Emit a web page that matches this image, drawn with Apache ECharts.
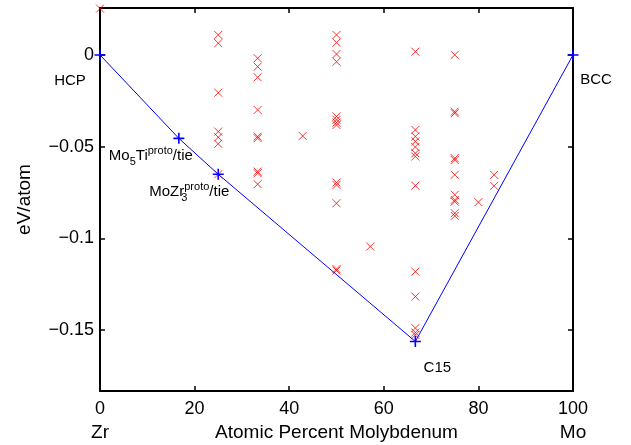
<!DOCTYPE html>
<html><head><meta charset="utf-8">
<script src="https://cdn.jsdelivr.net/npm/echarts@6/dist/echarts.min.js"></script>
<style>html,body{margin:0;padding:0;background:#fff}#c{width:631px;height:445px}</style>
</head><body><div id="c"></div>
<script>
// ---- data ----
const xTicks = [0, 20, 40, 60, 80, 100];
const xEndNames = ['Zr', 'Mo'];
const yTickValues = [-0.15, -0.1, -0.05, 0];
const yTickLabels = ['\u22120.15', '\u22120.1', '\u22120.05', '0'];
const xAxisName = 'Atomic Percent Molybdenum';
const yAxisName = 'eV/atom';

// convex hull (tie line) points
const hullX = [0, 16.67, 25, 66.67, 100];
const hullY = [0, -0.0455, -0.0651, -0.1563, 0];
const hullNames = ['HCP', 'Mo5Ti', 'MoZr3', 'C15', 'BCC'];

// computed structures: composition (at.% Mo) and formation energies
const structX = [0, 25, 33.33, 42.86, 50, 57.14, 66.67, 75, 80, 83.33];
const e0 = [0.0253];
const e25 = [0.0109, 0.0064, -0.0206, -0.0418, -0.0449, -0.0485, -0.0651];
const e33 = [-0.0018, -0.0064, -0.0122, -0.0300, -0.0445, -0.0454, -0.0636, -0.0645, -0.0705];
const e43 = [-0.0442];
const e50 = [0.0109, 0.0067, 0.0005, -0.0037, -0.0336, -0.0354, -0.0369, -0.0382, -0.0696, -0.0709, -0.0809, -0.1168, -0.1176];
const e57 = [-0.1045];
const e67 = [0.0018, -0.0409, -0.0445, -0.0472, -0.0502, -0.0536, -0.0554, -0.0713, -0.1182, -0.1318, -0.1490, -0.1514, -0.1527];
const e75 = [0.0, -0.0309, -0.0318, -0.0563, -0.0573, -0.0654, -0.0763, -0.0791, -0.0800, -0.0863, -0.0878];
const e80 = [-0.0803];
const e83 = [-0.0654, -0.0714];
const structY = [e0, e25, e33, e43, e50, e57, e67, e75, e80, e83];

// ---- presentation ----
const FONT = 'Liberation Sans, Arial, Helvetica, sans-serif';
const labelText = {
  HCP: '{b|HCP}',
  Mo5Ti: '{b|Mo}{sub|5}{b|Ti}{sup|proto}{b|/tie}',
  MoZr3: '{b|MoZr}{subz|3}{sup|proto}{b|/tie}',
  C15: '{b|C15}',
  BCC: '{b|BCC}'
};
const labelOffset = {
  HCP: [-30, 26], Mo5Ti: [-28, 18], MoZr3: [-29, 18], C15: [22, 26], BCC: [23, 25]
};
const rich = {
  b: { fontSize: 15, fontFamily: FONT, color: '#000', lineHeight: 22, verticalAlign: 'middle' },
  sub: { fontSize: 11, fontFamily: FONT, color: '#000', verticalAlign: 'bottom' },
  subz: { fontSize: 11, fontFamily: FONT, color: '#000', verticalAlign: 'bottom', width: 0.1 },
  sup: { fontSize: 11, fontFamily: FONT, color: '#000', verticalAlign: 'top' }
};

const pts = [];
structX.forEach((x, i) => structY[i].forEach(y => pts.push([x, y])));

const hullData = hullX.map((x, i) => ({
  value: [x, hullY[i]],
  label: {
    show: true, position: 'inside', offset: labelOffset[hullNames[i]],
    formatter: labelText[hullNames[i]], rich: rich
  }
}));

const xMin = 0, xMax = 100, yMin = -0.1833, yMax = 0.0256;
const axisLine = { show: true, onZero: false, lineStyle: { color: '#000', width: 2 } };
const tick = (vals) => ({ show: true, inside: true, length: 5, lineStyle: { color: '#000', width: 1.5 }, customValues: vals });

const option = {
  animation: false,
  backgroundColor: '#fff',
  grid: { left: 100, right: 58, top: 8, bottom: 54, containLabel: false, outerBoundsMode: 'none' },
  xAxis: [{
    type: 'value', min: xMin, max: xMax, interval: 20, position: 'bottom',
    axisLine: axisLine,
    axisTick: { show: true, inside: true, length: 5, lineStyle: { color: '#000', width: 1.5 } },
    splitLine: { show: false },
    axisLabel: {
      margin: 7, color: '#000',
      formatter: (v) => {
        const s = String(v);
        if (v === xTicks[0]) return '{t|' + s + '}\n{e|' + xEndNames[0] + '}';
        if (v === xTicks[xTicks.length - 1]) return '{t|' + s + '}\n{e|' + xEndNames[1] + '}';
        return '{t|' + s + '}';
      },
      rich: {
        t: { fontSize: 18, fontFamily: FONT, color: '#000', lineHeight: 23 },
        e: { fontSize: 19, fontFamily: FONT, color: '#000', lineHeight: 23 }
      }
    },
    name: xAxisName, nameLocation: 'middle', nameGap: 32, nameMoveOverlap: false,
    nameTextStyle: { fontSize: 19, fontFamily: FONT, color: '#000' }
  }, {
    type: 'value', min: xMin, max: xMax, interval: 20, position: 'top',
    axisLine: axisLine,
    axisTick: { show: true, inside: true, length: 5, lineStyle: { color: '#000', width: 1.5 } },
    axisLabel: { show: false }, splitLine: { show: false }
  }],
  yAxis: [{
    type: 'value', min: yMin, max: yMax, position: 'left',
    axisLine: axisLine,
    axisTick: tick(yTickValues),
    splitLine: { show: false },
    axisLabel: {
      customValues: yTickValues, margin: 6, color: '#000', fontSize: 18, fontFamily: FONT,
      formatter: (v) => {
        const k = yTickValues.findIndex(t => Math.abs(t - v) < 1e-9);
        return k >= 0 ? yTickLabels[k] : '';
      }
    },
    name: yAxisName, nameLocation: 'middle', nameGap: 66, nameRotate: 90, nameMoveOverlap: false,
    nameTextStyle: { fontSize: 19, fontFamily: FONT, color: '#000' }
  }, {
    type: 'value', min: yMin, max: yMax, position: 'right',
    axisLine: axisLine,
    axisTick: tick(yTickValues),
    axisLabel: { show: false }, splitLine: { show: false }
  }],
  series: [{
    type: 'scatter', xAxisIndex: 0, yAxisIndex: 0, data: pts,
    symbol: 'path://M0,0L10,10M10,0L0,10', symbolSize: 8, clip: false,
    itemStyle: { color: 'none', borderColor: '#ff0000', borderWidth: 1 },
    emphasis: { disabled: true }
  }, {
    type: 'line', xAxisIndex: 0, yAxisIndex: 0, data: hullData,
    symbol: 'path://M5,0L5,10M0,5L10,5', symbolSize: 11, showSymbol: true,
    lineStyle: { color: '#0000ff', width: 1 },
    itemStyle: { color: 'none', borderColor: '#0000ff', borderWidth: 1.6 },
    emphasis: { disabled: true }, clip: false, z: 3
  }]
};

const chart = echarts.init(document.getElementById('c'), null, { renderer: 'canvas' });
chart.setOption(option);
</script>
</body></html>
